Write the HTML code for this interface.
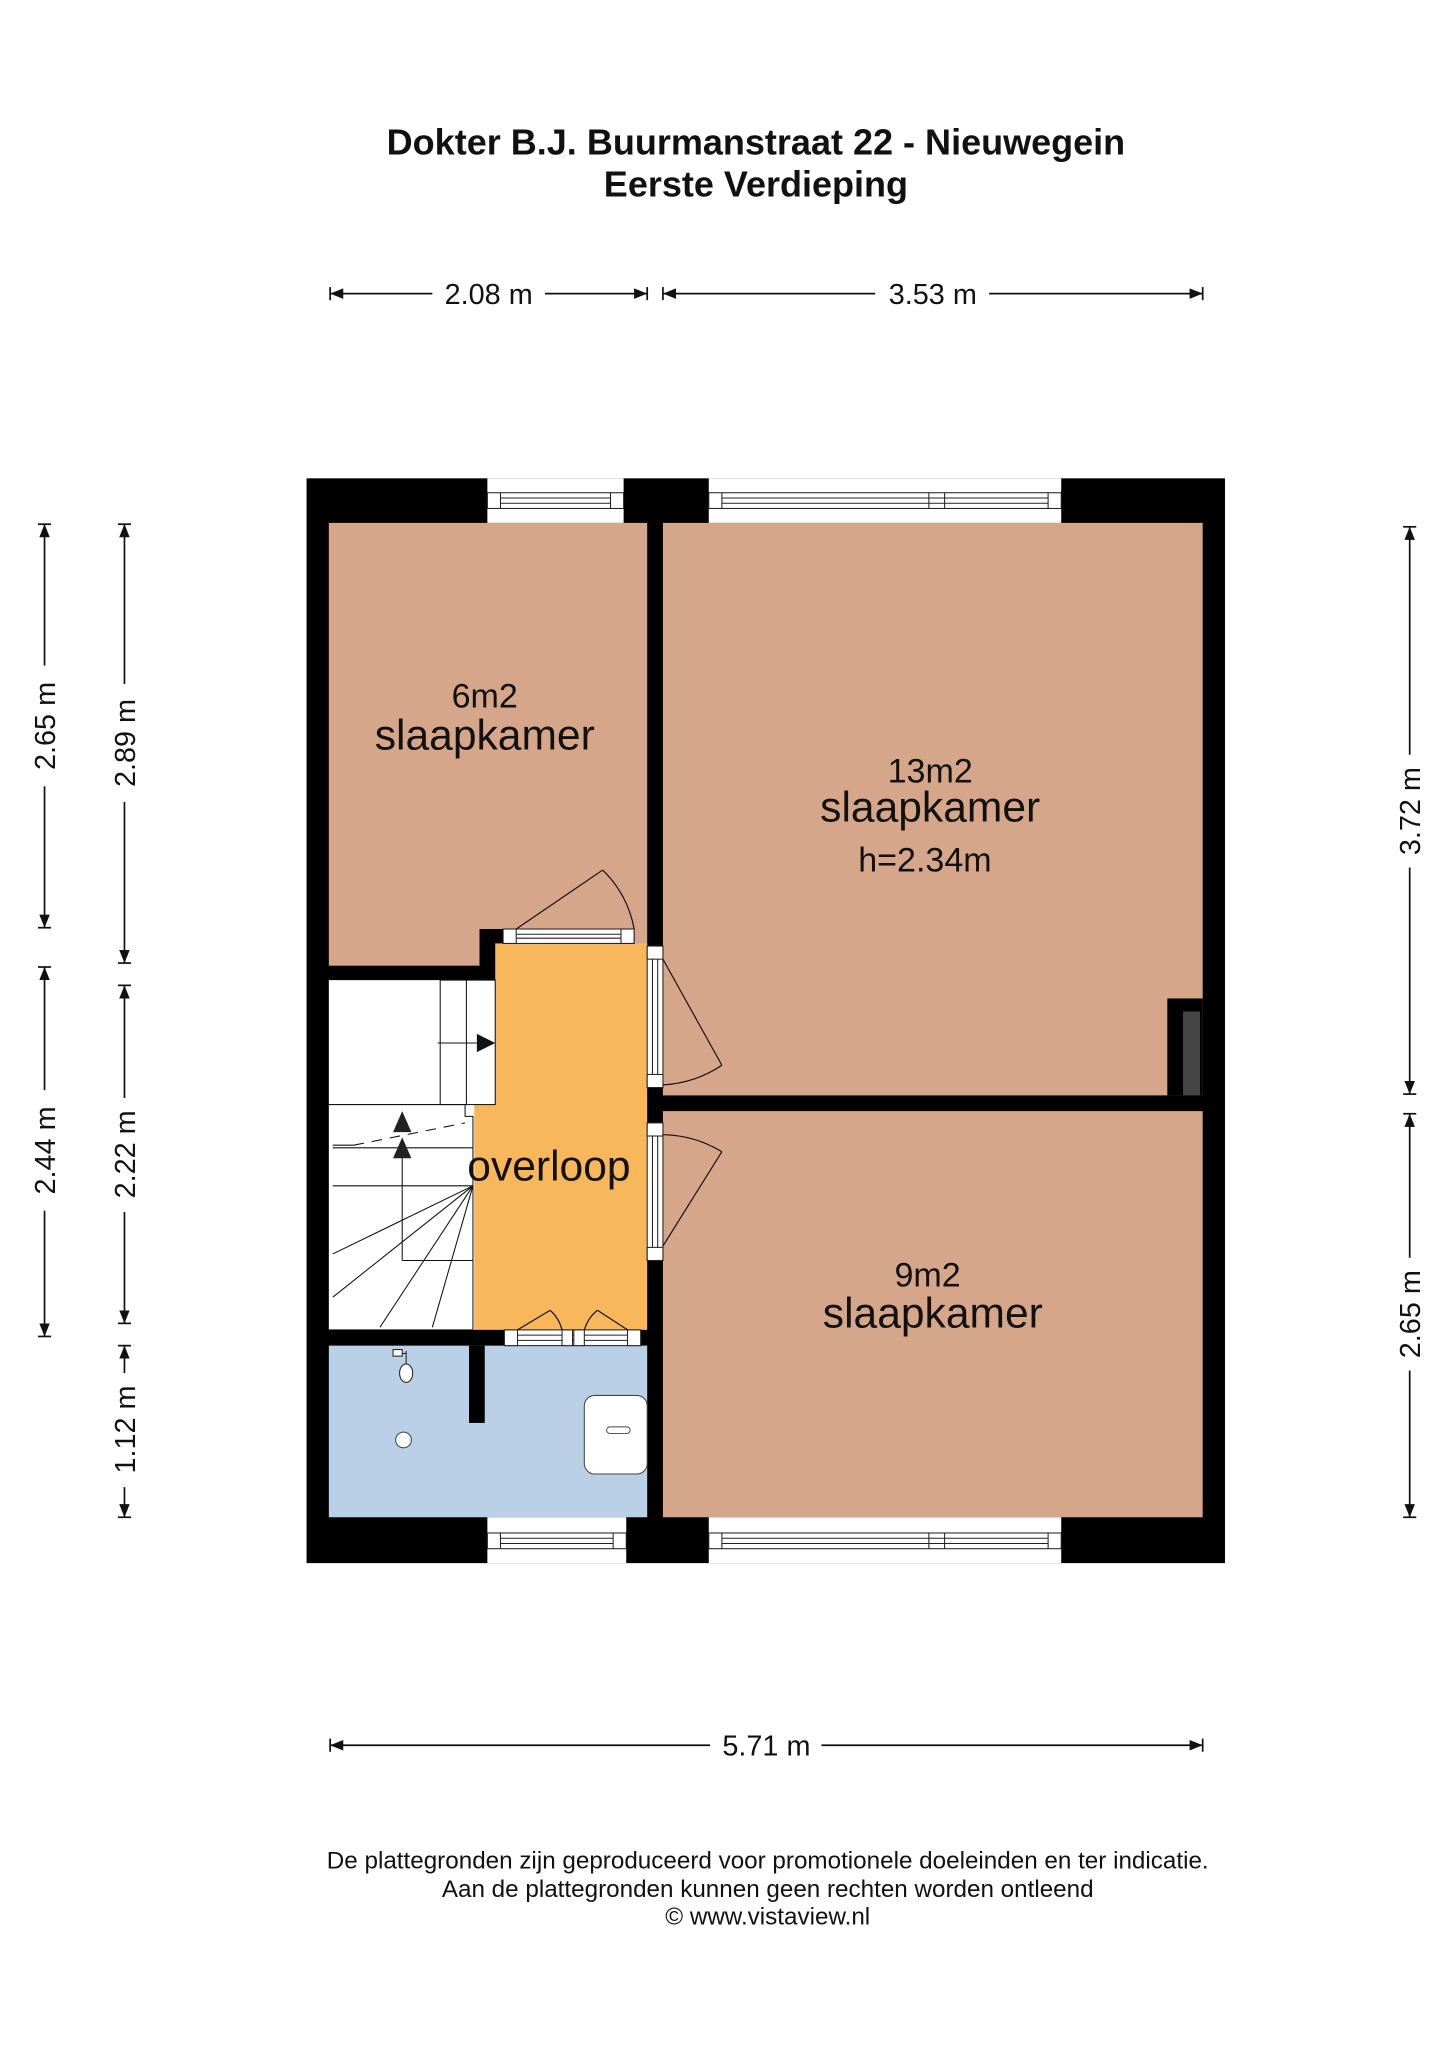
<!DOCTYPE html>
<html><head><meta charset="utf-8"><style>
html,body{margin:0;padding:0;background:#fff}
svg{display:block}
text{font-family:"Liberation Sans",Arial,sans-serif;fill:#111}
</style></head><body>
<svg width="1449" height="2048" viewBox="0 0 1106 1563" xmlns="http://www.w3.org/2000/svg">
<defs>
<marker id="ar" markerWidth="10" markerHeight="8" refX="10" refY="4" orient="auto" markerUnits="userSpaceOnUse"><path d="M0,0 L10,4 L0,8 z" fill="#111"/></marker>
<marker id="al" markerWidth="10" markerHeight="8" refX="0" refY="4" orient="auto" markerUnits="userSpaceOnUse"><path d="M10,0 L0,4 L10,8 z" fill="#111"/></marker>
</defs>
<text x="577" y="118" font-size="27.5" font-weight="bold" text-anchor="middle">Dokter B.J. Buurmanstraat 22 - Nieuwegein</text>
<text x="577" y="150" font-size="27.5" font-weight="bold" text-anchor="middle">Eerste Verdieping</text>

<g stroke="#111" stroke-width="1.3">
<line x1="252" y1="224" x2="330" y2="224" marker-start="url(#al)"/><line x1="416" y1="224" x2="494" y2="224" marker-end="url(#ar)"/>
<line x1="252" y1="219" x2="252" y2="229"/><line x1="494" y1="219" x2="494" y2="229"/>
<line x1="506" y1="224" x2="668" y2="224" marker-start="url(#al)"/><line x1="755" y1="224" x2="918" y2="224" marker-end="url(#ar)"/>
<line x1="506" y1="219" x2="506" y2="229"/><line x1="918" y1="219" x2="918" y2="229"/>
<line x1="252" y1="1332" x2="542" y2="1332" marker-start="url(#al)"/><line x1="627" y1="1332" x2="918" y2="1332" marker-end="url(#ar)"/>
<line x1="252" y1="1327" x2="252" y2="1337"/><line x1="918" y1="1327" x2="918" y2="1337"/>
<line x1="34" y1="400" x2="34" y2="508" marker-start="url(#al)"/><line x1="34" y1="600" x2="34" y2="708" marker-end="url(#ar)"/>
<line x1="29" y1="400" x2="39" y2="400"/><line x1="29" y1="708" x2="39" y2="708"/>
<line x1="34" y1="738" x2="34" y2="832" marker-start="url(#al)"/><line x1="34" y1="924" x2="34" y2="1020" marker-end="url(#ar)"/>
<line x1="29" y1="738" x2="39" y2="738"/><line x1="29" y1="1020" x2="39" y2="1020"/>
<line x1="95" y1="400" x2="95" y2="522" marker-start="url(#al)"/><line x1="95" y1="612" x2="95" y2="735" marker-end="url(#ar)"/>
<line x1="90" y1="400" x2="100" y2="400"/><line x1="90" y1="735" x2="100" y2="735"/>
<line x1="95" y1="752" x2="95" y2="838" marker-start="url(#al)"/><line x1="95" y1="925" x2="95" y2="1010" marker-end="url(#ar)"/>
<line x1="90" y1="752" x2="100" y2="752"/><line x1="90" y1="1010" x2="100" y2="1010"/>
<line x1="95" y1="1027" x2="95" y2="1048" marker-start="url(#al)"/><line x1="95" y1="1135" x2="95" y2="1158" marker-end="url(#ar)"/>
<line x1="90" y1="1027" x2="100" y2="1027"/><line x1="90" y1="1158" x2="100" y2="1158"/>
<line x1="1076" y1="402" x2="1076" y2="576" marker-start="url(#al)"/><line x1="1076" y1="662" x2="1076" y2="835" marker-end="url(#ar)"/>
<line x1="1071" y1="402" x2="1081" y2="402"/><line x1="1071" y1="835" x2="1081" y2="835"/>
<line x1="1076" y1="850" x2="1076" y2="960" marker-start="url(#al)"/><line x1="1076" y1="1046" x2="1076" y2="1158" marker-end="url(#ar)"/>
<line x1="1071" y1="850" x2="1081" y2="850"/><line x1="1071" y1="1158" x2="1081" y2="1158"/>
</g>
<g font-size="22">
<text x="373" y="232" text-anchor="middle">2.08 m</text>
<text x="712" y="232" text-anchor="middle">3.53 m</text>
<text x="585" y="1340" text-anchor="middle">5.71 m</text>
<text transform="translate(42,554) rotate(-90)" text-anchor="middle">2.65 m</text>
<text transform="translate(42,878) rotate(-90)" text-anchor="middle">2.44 m</text>
<text transform="translate(103,567) rotate(-90)" text-anchor="middle">2.89 m</text>
<text transform="translate(103,881) rotate(-90)" text-anchor="middle">2.22 m</text>
<text transform="translate(103,1091) rotate(-90)" text-anchor="middle">1.12 m</text>
<text transform="translate(1084,619) rotate(-90)" text-anchor="middle">3.72 m</text>
<text transform="translate(1084,1003) rotate(-90)" text-anchor="middle">2.65 m</text>
</g>

<rect x="234" y="365" width="701" height="828" fill="#000"/>
<rect x="251" y="399" width="243" height="338" fill="#D6A68A"/>
<rect x="506" y="399" width="412" height="437" fill="#D6A68A"/>
<rect x="506" y="848" width="412" height="310" fill="#D6A68A"/>
<rect x="251" y="1027" width="243" height="131" fill="#B9D0E7"/>
<rect x="366" y="709" width="18" height="39" fill="#000"/>
<path d="M378,720 L494,720 L494,1015 L360,1015 L360,853 L355,852 L355,843 L378,843 Z" fill="#F9B75C"/>
<rect x="251" y="748" width="127" height="95" fill="#fff"/>
<rect x="251" y="843" width="111" height="172" fill="#fff"/>
<g stroke="#111" stroke-width="0.8" fill="none">
<rect x="336" y="748" width="42" height="95"/>
<line x1="356" y1="748" x2="356" y2="843"/>
<polyline points="251,843 355,843 355,852 361,852 361,1015 251,1015"/>
<line x1="254" y1="876" x2="361" y2="876"/>
<line x1="254" y1="905" x2="361" y2="905"/>
<line x1="254" y1="957" x2="361" y2="905"/>
<line x1="254" y1="990" x2="361" y2="905"/>
<line x1="290" y1="1013" x2="361" y2="905"/>
<line x1="330" y1="1013" x2="361" y2="905"/>
<line x1="307" y1="882" x2="307" y2="962"/><line x1="307" y1="962" x2="361" y2="962"/>
<line x1="254" y1="874" x2="270" y2="874"/>
<line x1="270" y1="874" x2="355" y2="857" stroke-dasharray="8,6"/>
<line x1="334" y1="796" x2="365" y2="796"/>
</g>
<path d="M378,796 L364,789 L364,803 Z" fill="#111"/>
<path d="M307,868 L300,884 L314,884 Z M307,848 L300,864 L314,864 Z" fill="#222"/>
<rect x="891" y="762" width="27" height="74" fill="#000"/>
<rect x="903" y="772" width="13" height="64" fill="#444"/>
<g fill="#fff" stroke="#222" stroke-width="0.8">
<rect x="372" y="365" width="104" height="34" stroke="none"/>
<rect x="541" y="365" width="269" height="34" stroke="none"/>
<rect x="372" y="1158" width="106" height="35" stroke="none"/>
<rect x="541" y="1158" width="269" height="35" stroke="none"/>
<rect x="372" y="376" width="104" height="12"/><line x1="382" y1="380" x2="466" y2="380"/><line x1="382" y1="384" x2="466" y2="384"/><line x1="382" y1="376" x2="382" y2="388"/><line x1="466" y1="376" x2="466" y2="388"/>
<rect x="541" y="376" width="269" height="12"/><line x1="551" y1="380" x2="800" y2="380"/><line x1="551" y1="384" x2="800" y2="384"/><line x1="551" y1="376" x2="551" y2="388"/><line x1="800" y1="376" x2="800" y2="388"/><line x1="709" y1="376" x2="709" y2="388"/><line x1="721" y1="376" x2="721" y2="388"/>
<rect x="372" y="1170" width="106" height="12"/><line x1="382" y1="1174" x2="468" y2="1174"/><line x1="382" y1="1178" x2="468" y2="1178"/><line x1="382" y1="1170" x2="382" y2="1182"/><line x1="468" y1="1170" x2="468" y2="1182"/>
<rect x="541" y="1170" width="269" height="12"/><line x1="551" y1="1174" x2="800" y2="1174"/><line x1="551" y1="1178" x2="800" y2="1178"/><line x1="551" y1="1170" x2="551" y2="1182"/><line x1="800" y1="1170" x2="800" y2="1182"/><line x1="709" y1="1170" x2="709" y2="1182"/><line x1="721" y1="1170" x2="721" y2="1182"/>
<rect x="384" y="709" width="100" height="11"/><line x1="394" y1="713" x2="474" y2="713"/><line x1="394" y1="716" x2="474" y2="716"/><rect x="384" y="709" width="10" height="11"/><rect x="474" y="709" width="10" height="11"/>
<rect x="494" y="722" width="12" height="108"/><line x1="498" y1="732" x2="498" y2="820"/><line x1="502" y1="732" x2="502" y2="820"/><rect x="494" y="722" width="12" height="10"/><rect x="494" y="820" width="12" height="10"/>
<rect x="494" y="857" width="12" height="105"/><line x1="498" y1="867" x2="498" y2="952"/><line x1="502" y1="867" x2="502" y2="952"/><rect x="494" y="857" width="12" height="10"/><rect x="494" y="952" width="12" height="10"/>
<rect x="385" y="1015" width="104" height="12"/><line x1="395" y1="1019" x2="479" y2="1019"/><line x1="395" y1="1023" x2="479" y2="1023"/><rect x="385" y="1015" width="10" height="12"/><rect x="429" y="1015" width="8" height="12"/><rect x="438" y="1015" width="8" height="12"/><rect x="479" y="1015" width="10" height="12"/>
</g>
<g stroke="#111" stroke-width="0.9" fill="none">
<line x1="394" y1="709" x2="460" y2="664"/><path d="M460,664 A82,82 0 0 1 484,709"/>
<line x1="506" y1="732" x2="551" y2="813"/><path d="M551,813 A90,90 0 0 1 506,828"/>
<line x1="506" y1="951" x2="551" y2="879"/><path d="M551,879 A90,90 0 0 0 506,866"/>
<line x1="395" y1="1015" x2="420" y2="1000"/><path d="M420,1000 A30,30 0 0 1 429,1015"/>
<line x1="479" y1="1015" x2="456" y2="1000"/><path d="M456,1000 A30,30 0 0 0 446,1015"/>
</g>
<rect x="358" y="1027" width="12" height="59" fill="#000"/>
<rect x="446" y="1065" width="48" height="60" rx="8" fill="#fff" stroke="#444" stroke-width="0.8"/>
<rect x="463" y="1089" width="18" height="5" rx="2.5" fill="#fff" stroke="#444" stroke-width="0.7"/>
<circle cx="308" cy="1099" r="6" fill="#fff" stroke="#444" stroke-width="0.8"/>
<g stroke="#222" stroke-width="0.8" fill="#fff"><rect x="300" y="1030" width="7" height="5"/><line x1="307" y1="1033" x2="310" y2="1033"/><line x1="310" y1="1031" x2="310" y2="1042"/><ellipse cx="310" cy="1048" rx="5" ry="7"/></g>

<g text-anchor="middle">
<text x="370" y="540" font-size="26">6m2</text>
<text x="370" y="572" font-size="32.5">slaapkamer</text>
<text x="710" y="597" font-size="26">13m2</text>
<text x="710" y="627" font-size="32.5">slaapkamer</text>
<text x="706" y="665" font-size="26">h=2.34m</text>
<text x="419" y="901" font-size="32.5">overloop</text>
<text x="708" y="982" font-size="26">9m2</text>
<text x="712" y="1013" font-size="32.5">slaapkamer</text>
<text x="586" y="1426" font-size="18.5">De plattegronden zijn geproduceerd voor promotionele doeleinden en ter indicatie.</text>
<text x="586" y="1448" font-size="18.5">Aan de plattegronden kunnen geen rechten worden ontleend</text>
<text x="586" y="1469" font-size="18.5">© www.vistaview.nl</text>
</g>
</svg>
</body></html>
